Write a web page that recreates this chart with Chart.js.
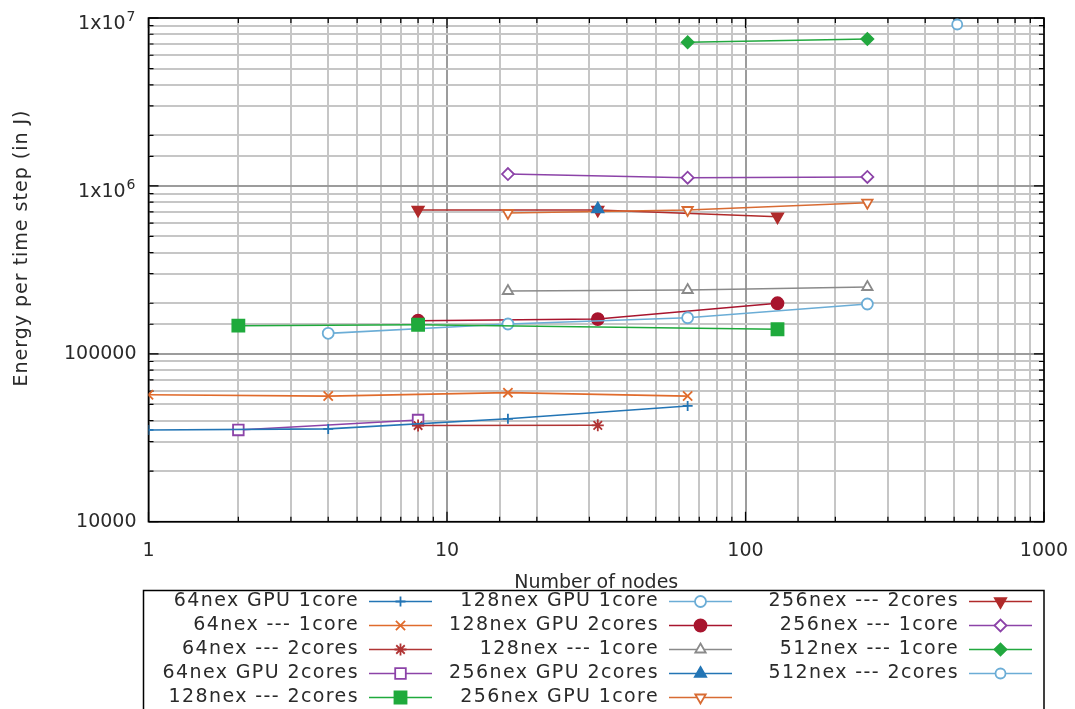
<!DOCTYPE html>
<html lang="en">
<head>
<meta charset="UTF-8">
<title>Energy per time step</title>
<script src="https://cdn.jsdelivr.net/npm/chart.js"></script>
<style>
  html, body { margin: 0; padding: 0; background: #fff; }
</style>
</head>
<body>
<canvas id="grafico" width="1075" height="709"></canvas>
<script>
// axis ticks
const xTicks = [1, 10, 100, 1000];
const yTicks = [10000, 100000, 1000000, 10000000];
const yTickLabels = ['10000', '100000', '1x10', '1x10'];
const yTickExps = ['', '', '6', '7'];

// series: nodes (x) and energy per step in J (y)
const n64Gpu1 = [1, 4, 16, 64];        const e64Gpu1 = [35200, 35700, 41000, 48900];
const n64Cpu1 = [1, 4, 16, 64];        const e64Cpu1 = [57000, 56000, 58700, 56000];
const n64Cpu2 = [8, 32];               const e64Cpu2 = [37400, 37500];
const n64Gpu2 = [2, 8];                const e64Gpu2 = [35200, 40300];
const n128Cpu2 = [2, 8, 128];          const e128Cpu2 = [147000, 149000, 140000];
const n128Gpu1 = [4, 16, 64, 256];     const e128Gpu1 = [132400, 150500, 164000, 198000];
const n128Gpu2 = [8, 32, 128];         const e128Gpu2 = [157400, 161000, 200000];
const n128Cpu1 = [16, 64, 256];        const e128Cpu1 = [236600, 239900, 250000];
const n256Gpu2 = [32];                 const e256Gpu2 = [728600];
const n256Gpu1 = [16, 64, 256];        const e256Gpu1 = [689800, 718700, 794000];
const n256Cpu2 = [8, 32, 128];         const e256Cpu2 = [718700, 718700, 655500];
const n256Cpu1 = [16, 64, 256];        const e256Cpu1 = [1177000, 1119000, 1130000];
const n512Cpu1 = [64, 256];            const e512Cpu1 = [7166000, 7500000];
const n512Cpu2 = [512];                const e512Cpu2 = [9150000];

const FONT = '"DejaVu Sans", "Liberation Sans", sans-serif';
const TEXT = '#2a2a2a';

function serie(label, xs, ys, color, style, filled, radius, rotation) {
  return {
    label: label,
    data: xs.map((x, i) => ({ x: x, y: ys[i] })),
    borderColor: color,
    borderWidth: 1.6,
    pointStyle: style,
    pointRadius: radius,
    pointRotation: rotation || 0,
    pointBorderColor: color,
    pointBackgroundColor: filled ? color : '#ffffff',
    pointBorderWidth: 1.8,
    fill: false,
    tension: 0
  };
}

const datasets = [
  serie('64nex GPU 1core', n64Gpu1, e64Gpu1, '#2375b5', 'cross', false, 5),
  serie('64nex --- 1core', n64Cpu1, e64Cpu1, '#e06b2c', 'crossRot', false, 6.5),
  serie('64nex --- 2cores', n64Cpu2, e64Cpu2, '#b03434', 'star', false, 6),
  serie('64nex GPU 2cores', n64Gpu2, e64Gpu2, '#8c43a8', 'rect', false, 7.5),
  serie('128nex --- 2cores', n128Cpu2, e128Cpu2, '#1faa3c', 'rect', true, 8.5),
  serie('128nex GPU 1core', n128Gpu1, e128Gpu1, '#6badd6', 'circle', false, 5.5),
  serie('128nex GPU 2cores', n128Gpu2, e128Gpu2, '#a8152e', 'circle', true, 6),
  serie('128nex --- 1core', n128Cpu1, e128Cpu1, '#8a8a8a', 'triangle', false, 6),
  serie('256nex GPU 2cores', n256Gpu2, e256Gpu2, '#2375b5', 'triangle', true, 6.5),
  serie('256nex GPU 1core', n256Gpu1, e256Gpu1, '#d86b33', 'triangle', false, 6, 180),
  serie('256nex --- 2cores', n256Cpu2, e256Cpu2, '#b02a2a', 'triangle', true, 6.5, 180),
  serie('256nex --- 1core', n256Cpu1, e256Cpu1, '#8c43a8', 'rectRot', false, 6),
  serie('512nex --- 1core', n512Cpu1, e512Cpu1, '#22a83f', 'rectRot', true, 6),
  serie('512nex --- 2cores', n512Cpu2, e512Cpu2, '#6badd6', 'circle', false, 5)
];

function isDecade(v) {
  const l = Math.log10(v);
  return Math.abs(l - Math.round(l)) < 1e-9;
}

const gridStyle = {
  drawTicks: false,
  color: c => isDecade(c.tick.value) ? '#9c9c9c' : '#c6c6c6',
  lineWidth: 2
};

// frame, inward tick marks and the power-of-ten labels
const frame = {
  id: 'frame',
  beforeDatasetsDraw(chart) {
    const { ctx, chartArea: a, scales } = chart;
    ctx.save();
    ctx.strokeStyle = '#000';
    ctx.lineWidth = 1.2;
    ctx.beginPath();
    scales.x.ticks.forEach(t => {
      const px = scales.x.getPixelForValue(t.value);
      const len = isDecade(t.value) ? 10 : 5;
      ctx.moveTo(px, a.bottom); ctx.lineTo(px, a.bottom - len);
      ctx.moveTo(px, a.top); ctx.lineTo(px, a.top + len);
    });
    scales.y.ticks.forEach(t => {
      const py = scales.y.getPixelForValue(t.value);
      const len = isDecade(t.value) ? 10 : 5;
      ctx.moveTo(a.left, py); ctx.lineTo(a.left + len, py);
      ctx.moveTo(a.right, py); ctx.lineTo(a.right - len, py);
    });
    ctx.stroke();
    ctx.lineWidth = 1.6;
    ctx.strokeRect(a.left, a.top, a.right - a.left, a.bottom - a.top);

    // 1x10^n labels with a raised exponent
    ctx.fillStyle = TEXT;
    ctx.textAlign = 'right';
    ctx.textBaseline = 'alphabetic';
    yTicks.forEach((v, k) => {
      if (!yTickExps[k]) return;
      const py = scales.y.getPixelForValue(v);
      const right = a.left - 13;
      ctx.font = '14px ' + FONT;
      const w = ctx.measureText(yTickExps[k]).width;
      ctx.fillText(yTickExps[k], right, py + 3);
      ctx.font = '19px ' + FONT;
      ctx.fillText(yTickLabels[k], right - w - 1, py + 11);
    });
    ctx.restore();
  }
};

// axis titles and the three-column key below the plot
const key = {
  id: 'key',
  afterDraw(chart) {
    const { ctx, chartArea: a } = chart;
    ctx.save();
    ctx.fillStyle = TEXT;
    ctx.font = '19px ' + FONT;
    ctx.textAlign = 'center';
    ctx.textBaseline = 'alphabetic';
    ctx.fillText('Number of nodes', (a.left + a.right) / 2, 588);

    ctx.save();
    ctx.translate(22, 248);
    ctx.rotate(-Math.PI / 2);
    ctx.textBaseline = 'middle';
    ctx.letterSpacing = '1px';
    ctx.fillText('Energy per time step (in J)', 0, 0);
    ctx.restore();

    ctx.strokeStyle = '#000';
    ctx.lineWidth = 1.5;
    ctx.strokeRect(143.5, 590.5, 900.5, 140);

    ctx.letterSpacing = '1.4px';
    ctx.textAlign = 'right';
    ctx.textBaseline = 'middle';
    const drawPoint = Chart.helpers && Chart.helpers.drawPoint;
    chart.data.datasets.forEach((ds, i) => {
      const col = Math.floor(i / 5), row = i % 5;
      const y = 601.5 + row * 24;
      const tx = 359 + col * 300;
      ctx.fillStyle = TEXT;
      ctx.fillText(ds.label, tx, y);
      const x1 = 369 + col * 300, x2 = 432 + col * 300, xm = (x1 + x2) / 2;
      ctx.strokeStyle = ds.borderColor;
      ctx.lineWidth = ds.borderWidth;
      ctx.beginPath();
      ctx.moveTo(x1, y); ctx.lineTo(x2, y);
      ctx.stroke();
      ctx.fillStyle = ds.pointBackgroundColor;
      ctx.strokeStyle = ds.pointBorderColor;
      ctx.lineWidth = ds.pointBorderWidth;
      if (drawPoint) {
        drawPoint(ctx, {
          pointStyle: ds.pointStyle,
          rotation: ds.pointRotation,
          radius: ds.pointRadius,
          borderWidth: ds.pointBorderWidth
        }, xm, y);
      }
    });
    ctx.restore();
  }
};

new Chart(document.getElementById('grafico'), {
  type: 'line',
  data: { datasets: datasets },
  options: {
    responsive: false,
    animation: false,
    devicePixelRatio: 1,
    layout: { padding: { left: 0, top: 18, right: 31, bottom: 0 } },
    plugins: { legend: { display: false }, tooltip: { enabled: false } },
    scales: {
      x: {
        type: 'logarithmic',
        min: 1,
        max: 1000,
        afterFit: s => {
          s.height = 187.3;
          s.paddingLeft = 0;
          s.paddingRight = 0;
        },
        border: { display: false },
        grid: gridStyle,
        ticks: {
          autoSkip: false,
          maxRotation: 0,
          padding: 18,
          color: TEXT,
          font: { family: FONT, size: 19 },
          callback: v => xTicks.includes(v) ? String(v) : ''
        }
      },
      y: {
        type: 'logarithmic',
        min: 10000,
        max: 10000000,
        afterFit: s => {
          s.width = 148.5;
          s.paddingTop = 0;
          s.paddingBottom = 0;
        },
        border: { display: false },
        grid: gridStyle,
        ticks: {
          autoSkip: false,
          padding: 12,
          color: TEXT,
          font: { family: FONT, size: 19 },
          // plain labels here, the 1x10^n ones are drawn by the frame plugin
          callback: v => {
            const k = yTicks.indexOf(v);
            return k >= 0 && !yTickExps[k] ? yTickLabels[k] : '';
          }
        }
      }
    }
  },
  plugins: [frame, key]
});
</script>
</body>
</html>
